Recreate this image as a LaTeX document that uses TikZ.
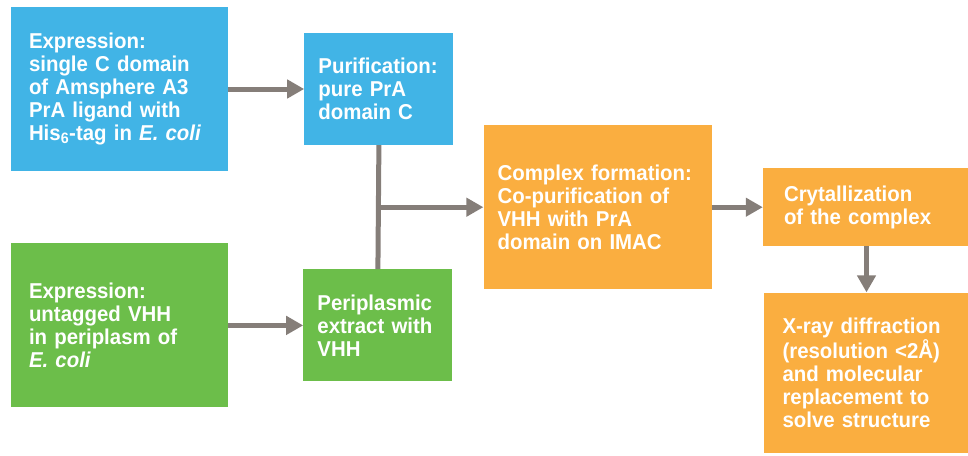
\documentclass[tikz,border=0pt]{standalone}
\usepackage{fontspec}
\setmainfont{Liberation Sans}[FakeStretch=0.95]
\usetikzlibrary{positioning, arrows.meta, calc}
\definecolor{prablue}{RGB}{65,180,230}
\definecolor{vhhgreen}{RGB}{108,190,74}
\definecolor{cplxorange}{RGB}{250,174,64}
\definecolor{arrowgray}{RGB}{133,126,121}
\tikzset{stage/.style n args={3}{text width=#1, minimum height=#2, inner xsep=#3, inner ysep=0pt,
    text=white, align=left, font=\bfseries\fontsize{21.5}{23}\selectfont},
  bluestage/.style={fill=prablue},
  greenstage/.style={fill=vhhgreen},
  orangestage/.style={fill=cplxorange},
  flow/.style={draw=arrowgray, line width=5pt, -{Triangle[length=17pt,width=18pt]}},
  branch/.style={draw=arrowgray, line width=5pt}}

\begin{document}
\begin{tikzpicture}[x=1pt, y=1pt]
    \useasboundingbox (0,0) rectangle (968,-455);

    \node[bluestage, stage={181pt}{164pt}{18pt}] (expr_pra) at (119.5,-89)
        {Expression:\\ single C domain\\ of Amsphere A3\\ PrA ligand with\\ His\textsubscript{6}-tag in \textit{E. coli}};
    \node[bluestage, stage={121pt}{112pt}{14pt}, right=76pt of expr_pra] (purif)
        {Purification:\\ pure PrA\\ domain C};

    \node[greenstage, stage={181pt}{164pt}{18pt}, below=72pt of expr_pra] (expr_vhh)
        {Expression:\\ untagged VHH\\ in periplasm of\\ \textit{E. coli}};
    \node[greenstage, stage={121pt}{112pt}{14pt}, right=75pt of expr_vhh] (peri)
        {Periplasmic\\ extract with\\ VHH};

    \coordinate (join) at ($(purif.south)!0.5!(peri.north)$);

    \node[orangestage, stage={200pt}{164pt}{14pt}, right=105pt of join] (cplx)
        {Complex formation:\\ Co-purification of\\ VHH with PrA\\ domain on IMAC};
    \node[orangestage, stage={165pt}{78pt}{21pt}, right=51pt of cplx] (cryst)
        {Crytallization\\ of the complex};
    \node[orangestage, stage={168pt}{160pt}{19pt}, below=46pt of cryst] (xray)
        {X-ray diffraction\\ (resolution <2Å)\\ and molecular\\ replacement to\\ solve structure};

    \draw[flow] (expr_pra) -- (purif);
    \draw[flow] (expr_vhh) -- (peri);
    \draw[branch] (purif.south) -- (peri.north);
    \draw[flow] (join) -- (cplx.west);
    \draw[flow] (cplx) -- (cryst);
    \draw[flow] (cryst) -- (xray);

\end{tikzpicture}
\end{document}
